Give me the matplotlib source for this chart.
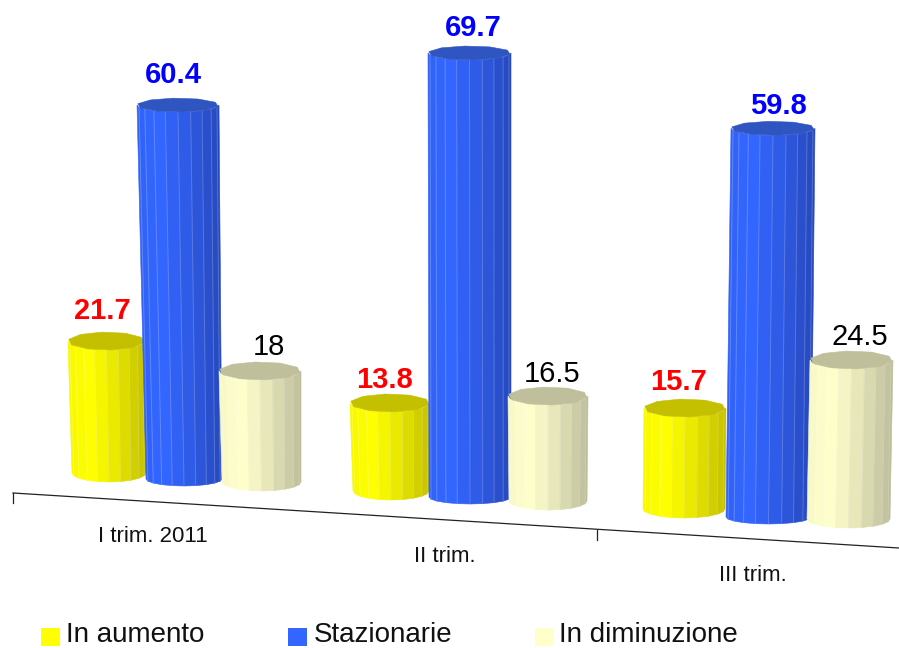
import numpy as np
import matplotlib
matplotlib.use("Agg")
import matplotlib.pyplot as plt
from matplotlib.colors import to_rgb
from matplotlib.patches import Polygon, Rectangle

plt.rcParams["font.family"] = ["Liberation Sans", "DejaVu Sans"]

quarters = ["I trim. 2011", "II trim.", "III trim."]
series_names = ["In aumento", "Stazionarie", "In diminuzione"]
in_aumento = [21.7, 13.8, 15.7]
stazionarie = [60.4, 69.7, 59.8]
in_diminuzione = [18, 16.5, 24.5]
value_text = [["21.7", "13.8", "15.7"], ["60.4", "69.7", "59.8"], ["18", "16.5", "24.5"]]

face_colors = ["#FFFF00", "#3366FF", "#FFFFCC"]
shade_colors = ["#C4C000", "#2648BC", "#BCBC9A"]
cap_colors = ["#C4C000", "#2F55C0", "#BFBF9C"]
label_colors = ["#FF0000", "#0000FF", "#000000"]
label_weights = ["bold", "bold", "normal"]

# Pseudo-3D layout in pixels: left/right edge at the cap and at the foot,
# foot height at the front, and pixels per percentage point.
cap_left = [[68, 350, 644], [137, 428, 731], [219, 508, 810]]
cap_right = [[145, 430, 726], [219, 511, 815], [301, 588, 893]]
foot_left = [[72, 353, 643], [146, 429, 726], [222, 509, 807]]
foot_right = [[146, 429, 725], [222, 511, 811], [301, 587, 890]]
foot_y = [[482, 500, 518], [486, 504, 524], [491, 510, 528]]
px_per_unit = [[6.08, 6.38, 6.43], [6.19, 6.37, 6.50], [6.17, 6.36, 6.49]]
cap_half_height = [9, 7, 9]
label_dx = [[-4.5, -5, -6], [-5, 3.5, 5], [9, 4, 8.5]]
label_gap = [[31, 24, 27], [29, 24, 21], [25, 23, 24]]

N_FACETS = 10


def mix(a, b, t):
    a, b = np.array(to_rgb(a)), np.array(to_rgb(b))
    return tuple(a + (b - a) * t)


def facet_shade(u):
    # Brightest a quarter of the way across, falling off toward the right.
    if u < 0.25:
        return 0.12 * (0.25 - u) / 0.25
    return ((u - 0.25) / 0.75) ** 1.25


def draw_cylinder(ax, value, row, col):
    scale = px_per_unit[row][col]
    yb = foot_y[row][col]
    yt = yb - value * scale
    hh = cap_half_height[row]
    ctop = (cap_left[row][col] + cap_right[row][col]) / 2
    rtop = (cap_right[row][col] - cap_left[row][col]) / 2
    cfoot = (foot_left[row][col] + foot_right[row][col]) / 2
    rfoot = (foot_right[row][col] - foot_left[row][col]) / 2
    angles = np.linspace(np.pi, 0, N_FACETS + 1)
    xt = ctop + rtop * np.cos(angles)
    yt_edge = yt - hh + hh * np.sin(angles)
    xb = cfoot + rfoot * np.cos(angles)
    yb_edge = yb - hh + hh * np.sin(angles)
    base = face_colors[row]
    dark = shade_colors[row]
    z = 3 + col * 0.1 + row * 0.01
    for i in range(N_FACETS):
        u = ((xt[i] + xt[i + 1]) / 2 - xt[0]) / (xt[-1] - xt[0])
        col_f = mix(base, dark, facet_shade(u))
        quad = [(xt[i], yt_edge[i]), (xt[i + 1], yt_edge[i + 1]),
                (xb[i + 1], yb_edge[i + 1]), (xb[i], yb_edge[i])]
        ax.add_patch(Polygon(quad, closed=True, fc=col_f, ec=col_f, lw=0.4, zorder=z))
        if i > 0:
            ax.plot([xt[i], xb[i]], [yt_edge[i], yb_edge[i]], color=mix(col_f, "#FFFFFF", 0.22),
                    lw=0.7, zorder=z + 0.001, solid_capstyle="butt")
    around = np.linspace(0, 2 * np.pi, 11)[:-1] + 0.2
    cap = np.column_stack([ctop + rtop * np.cos(around),
                           yt - hh + hh * np.sin(around)])
    ax.add_patch(Polygon(cap, closed=True, fc=cap_colors[row], ec=cap_colors[row], lw=0.4,
                         zorder=z + 0.002))
    ax.text(ctop + label_dx[row][col], yt - label_gap[row][col], value_text[row][col],
            color=label_colors[row], fontsize=21, fontweight=label_weights[row],
            ha="center", va="baseline", zorder=8)


fig = plt.figure(figsize=(8.99, 6.48), dpi=100, facecolor="white")
ax = fig.add_axes([0, 0, 1, 1])
ax.set_xlim(0, 899)
ax.set_ylim(648, 0)
ax.axis("off")

# Slanted floor line with its tick marks
ax.plot([13, 899], [493, 548], color="#222222", lw=0.9, zorder=2)
for tx, ty in [(13, 493), (597, 530)]:
    ax.plot([tx, tx], [ty, ty + 10], color="#222222", lw=0.9, zorder=2)

for row, values in enumerate([in_aumento, stazionarie, in_diminuzione]):
    for col, v in enumerate(values):
        draw_cylinder(ax, v, row, col)

tick_pos = [(153, 542), (445, 562), (753, 581)]
for name, (x, y) in zip(quarters, tick_pos):
    ax.text(x, y, name, fontsize=16, ha="center", va="baseline", color="#111111")

legend_pos = [(41, 66), (288, 314), (535, 559)]
for name, fc, (sx, tx) in zip(series_names, face_colors, legend_pos):
    ax.add_patch(Rectangle((sx, 628), 19, 18, fc=fc, ec="none"))
    ax.text(tx, 642, name, fontsize=20, ha="left", va="baseline", color="#111111")

fig.savefig("out.png", dpi=100)
